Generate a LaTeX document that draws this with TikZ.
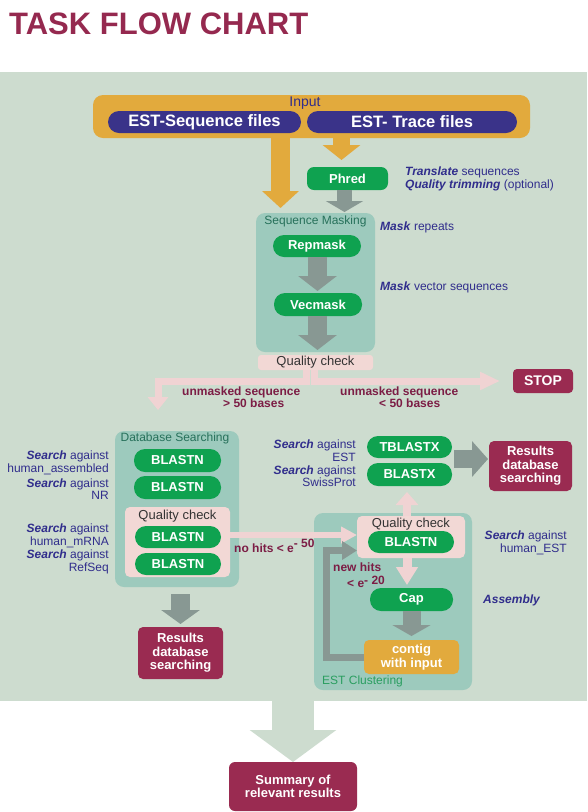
\documentclass[tikz,border=0pt]{standalone}
\usepackage{fontspec}
\setmainfont{Liberation Sans}
\usetikzlibrary{arrows.meta}
\newcommand\myfs[2]{\fontsize{#1}{#2}\selectfont}
\newcommand\srch{\textbf{\textit{Search}} against}
\definecolor{panel}{HTML}{CDDCCF}
\definecolor{tealbox}{HTML}{9DCABD}
\definecolor{pillgreen}{HTML}{0FA250}
\definecolor{pillblue}{HTML}{3A3389}
\definecolor{orng}{HTML}{E2AA3D}
\definecolor{mar}{HTML}{9A2B51}
\definecolor{pinkb}{HTML}{F2D8D5}
\definecolor{pinkarr}{HTML}{F0D3D3}
\definecolor{greyarr}{HTML}{889893}
\definecolor{txtblue}{HTML}{302D8C}
\definecolor{txtmar}{HTML}{7C1D45}
\definecolor{lblgreen}{HTML}{27715B}
\definecolor{estgreen}{HTML}{2A9E60}
\definecolor{titlemar}{HTML}{95294F}
\begin{document}
\begin{tikzpicture}[x=1pt,y=-1pt,
  sz/.style 2 args={minimum width=#1pt,minimum height=#2pt},
  basebox/.style={rectangle,inner sep=0pt,outer sep=0pt},
  gpill/.style={basebox,fill=pillgreen,rounded corners=11pt,text=white,font=\bfseries\myfs{13}{13}},
  bpill/.style={basebox,fill=pillblue,rounded corners=11pt,text=white,font=\bfseries\myfs{16.5}{16.5}},
  tbox/.style={basebox,fill=tealbox,rounded corners=9pt},
  pbox/.style={basebox,fill=pinkb,rounded corners=4pt,text=black!80,font=\myfs{13}{13}},
  mbox/.style={basebox,fill=mar,rounded corners=5pt,text=white,font=\bfseries\myfs{13}{13.5},align=center},
  note/.style={inner sep=0pt,text=txtblue,font=\myfs{12}{12.5}},
  mlab/.style={inner sep=0pt,text=txtmar,font=\bfseries\myfs{12}{12}},
  lbl/.style={inner sep=0pt,font=\myfs{12}{12}},
  garrow/.style={draw=greyarr,line width=19pt,-{Triangle[width=38pt,length=15pt]}},
  oarrow/.style={draw=orng,line width=19pt,-{Triangle[width=36pt,length=17pt]}},
  parrow/.style={draw=pinkarr,line width=7pt,-{Triangle[width=20pt,length=14pt]}},
]
\useasboundingbox (0,0) rectangle (587,812);
\fill[white] (0,0) rectangle (587,812);
\fill[panel] (0,72) rectangle (587,701);

% title
\node[anchor=base west,inner sep=0pt,text=titlemar,font=\bfseries\myfs{31}{31}] (title) at (9,34) {TASK FLOW CHART};

% helper coordinates
\coordinate (xa) at (280.5,0);
\coordinate (xb) at (341.5,0);
\coordinate (xc) at (344.5,0);
\coordinate (xd) at (317.5,0);
\coordinate (xe) at (306.5,0);
\coordinate (xf) at (314.5,0);
\coordinate (jl) at (158,381);
\coordinate (tl) at (158,410);
\coordinate (nhy) at (0,535);
\coordinate (xh) at (407,0);
\coordinate (yr) at (0,459);
\coordinate (lc) at (326.5,550.5);
\coordinate (pb) at (293,700);

% input
\node[basebox,fill=orng,rounded corners=10pt,sz={437}{43}] (inp) at (311.5,116.5) {};
\node[inner sep=0pt,text=txtblue,font=\myfs{14}{14}] (inplbl) at (305,103) {Input};
\node[bpill,sz={193}{22}] (seqf) at (204.5,122) {EST-Sequence files};
\node[bpill,sz={210}{22}] (trf) at (412,122) {EST- Trace files};

% phred
\node[basebox,fill=pillgreen,rounded corners=7pt,sz={81}{23},text=white,font=\bfseries\myfs{13}{13}] (phred) at (347.5,178.5) {Phred};
\node[note,anchor=west,align=left] (phnote) at (405,179) {\textbf{\textit{Translate}} sequences\\\textbf{\textit{Quality trimming}} (optional)};

% sequence masking
\node[tbox,sz={119}{139}] (seqmask) at (315.5,282.5) {};
\node[lbl,text=lblgreen] (seqmasklbl) at (315.5,221) {Sequence Masking};
\node[gpill,sz={88}{22}] (repmask) at (317,246) {Repmask};
\node[gpill,sz={88}{23}] (vecmask) at (318,304.5) {Vecmask};
\node[pbox,sz={115}{15},rounded corners=3pt] (qc1) at (315.5,362.5) {Quality check};
\node[note,anchor=west] (mrep) at (380,227) {\textbf{\textit{Mask}} repeats};
\node[note,anchor=west] (mvec) at (380,287) {\textbf{\textit{Mask}} vector sequences};

\draw[oarrow,shorten >=5pt] (inp.south -| xa) -- (seqmask.north -| xa);
\draw[oarrow,line width=17pt,-{Triangle[width=37pt,length=15pt]},shorten >=7pt] (inp.south -| xb) -- (phred.north -| xb);
\draw[garrow,line width=15pt,-{Triangle[width=37pt,length=11pt]},shorten >=1pt] (phred.south -| xc) -- (seqmask.north -| xc);
\draw[garrow,shorten >=2pt] (repmask.south -| xd) -- (vecmask.north -| xd);
\draw[garrow,shorten >=5pt] (vecmask.south -| xd) -- (qc1.north -| xd);

% stop
\node[mbox,sz={60}{24},rounded corners=4pt,font=\bfseries\myfs{14}{14}] (stop) at (543,381) {STOP};
\draw[parrow,-{Triangle[width=20pt,length=13pt]}] (qc1.south -| xe) |- (jl) -- (tl);
\draw[parrow,-{Triangle[width=17pt,length=20pt]},shorten >=13pt] (qc1.south -| xf) |- (stop.west);
\node[mlab,anchor=west] (um1) at (182,392) {unmasked sequence};
\node[mlab,anchor=west] (um1b) at (223,403) {> 50 bases};
\node[mlab,anchor=west] (um2) at (340,392) {unmasked sequence};
\node[mlab,anchor=west] (um2b) at (379,403) {< 50 bases};

% database searching
\node[tbox,sz={124}{156}] (dbbox) at (177,509) {};
\node[lbl,text=lblgreen] (dblbl) at (175,438) {Database Searching};
\node[gpill,sz={87}{23}] (bl1) at (177.5,460.5) {BLASTN};
\node[gpill,sz={87}{23}] (bl2) at (177.5,487.5) {BLASTN};
\node[pbox,sz={105}{70},rounded corners=5pt] (qc2) at (177.5,542) {};
\node[inner sep=0pt,text=black!80,font=\myfs{13}{13}] (qc2lbl) at (177.5,516) {Quality check};
\node[gpill,sz={86}{22}] (bl3) at (178,537) {BLASTN};
\node[gpill,sz={86}{22}] (bl4) at (178,564) {BLASTN};
\node[note,anchor=east,align=right] (s1) at (109,463) {\srch\\human\_assembled};
\node[note,anchor=east,align=right] (s2) at (109,489) {\srch\\NR};
\node[note,anchor=east,align=right] (s3) at (109,536) {\srch\\human\_mRNA};
\node[note,anchor=east,align=right] (s4) at (109,562) {\srch\\RefSeq};
\node[mbox,sz={85}{52}] (res1) at (180.5,653) {Results\\database\\searching};
\draw[garrow,-{Triangle[width=38pt,length=14pt]},shorten <=7pt,shorten >=3pt] (dbbox.south -| res1.north) -- (res1.north);

% EST clustering
\node[tbox,sz={158}{177}] (estbox) at (393,601.5) {};
\node[lbl,text=estgreen,anchor=west] (estlbl) at (322,681) {EST Clustering};
\node[pbox,sz={108}{42},rounded corners=5pt] (qc3) at (411,537) {};
\node[inner sep=0pt,text=black!80,font=\myfs{13}{13}] (qc3lbl) at (411,524) {Quality check};
\node[gpill,sz={86}{22}] (bl5) at (411,542) {BLASTN};
\node[gpill,sz={85}{22}] (tblastx) at (409.5,447) {TBLASTX};
\node[gpill,sz={85}{23}] (blastx) at (409.5,474.5) {BLASTX};
\node[mbox,sz={83}{50}] (res2) at (530.5,466) {Results\\database\\searching};
\node[gpill,sz={83}{23}] (cap) at (411.5,599.5) {Cap};
\node[basebox,fill=orng,rounded corners=5pt,sz={95}{34},text=white,font=\bfseries\myfs{13}{13.5},align=center] (contig) at (411.5,657) {contig\\with input};
\node[note,anchor=east,align=right] (s5) at (356,450.5) {\srch\\EST};
\node[note,anchor=east,align=right] (s6) at (356,476) {\srch\\SwissProt};
\node[note,anchor=east,align=right] (s7) at (567,543) {\srch\\human\_EST};
\node[note,anchor=west] (asm) at (483,600) {\textbf{\textit{Assembly}}};

\draw[parrow,line width=6pt,-{Triangle[width=16pt,length=16pt]}] (qc2.east |- nhy) -- (qc3.west |- nhy);
\node[mlab,anchor=west] (nohits) at (234,546) {no hits < e\raisebox{5pt}{\myfs{12}{12}- 50}};
\draw[parrow,line width=8pt,-{Triangle[width=22pt,length=13pt]},shorten >=6pt] (qc3.north -| xh) -- (blastx.south -| xh);
\draw[parrow,line width=9pt,-{Triangle[width=21pt,length=18pt]},shorten >=3pt] (qc3.south -| xh) -- (cap.north -| xh);
\draw[garrow,line width=18pt,-{Triangle[width=35pt,length=16pt]},shorten <=2pt,shorten >=1pt] (blastx.east |- yr) -- (res2.west |- yr);
\draw[garrow,line width=18pt,-{Triangle[width=38pt,length=11pt]},shorten >=4pt] (cap.south) -- (contig.north);
\draw[garrow,line width=7pt,-{Triangle[width=18pt,length=15pt]}] (contig.west) -| (lc) -- (qc3.west |- lc);
\node[mlab,anchor=west] (newhits) at (333,567) {new hits};
\node[mlab,anchor=west] (newhits2) at (347,582) {< e\raisebox{3.5pt}{\myfs{12}{12}- 20}};

% summary
\node[mbox,sz={128}{49},rounded corners=6pt] (summary) at (293,786.5) {Summary of\\relevant results};
\draw[draw=panel,line width=42pt,-{Triangle[width=85pt,length=32pt]}] (pb) -- (summary.north);
\end{tikzpicture}
\end{document}
